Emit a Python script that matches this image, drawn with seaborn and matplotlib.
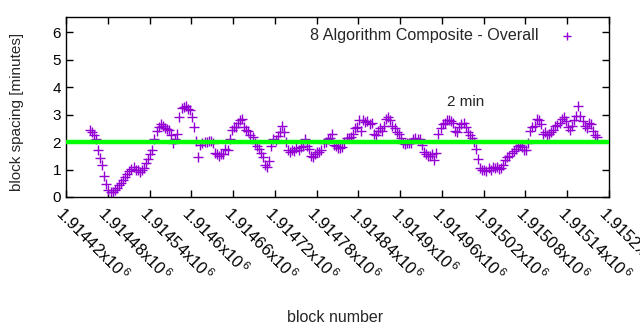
import numpy as np
import pandas as pd
import matplotlib
matplotlib.use("Agg")
import matplotlib.pyplot as plt
import seaborn as sns
from matplotlib.ticker import FixedLocator, FixedFormatter

# ---- data ----
first_block = 1914454
block_step = 3
spacing_minutes = [
    2.42, 2.35, 2.25, 2.1, 1.7, 1.42, 1.15, 0.78, 0.47, 0.25,
    0.2, 0.2, 0.26, 0.34, 0.42, 0.52, 0.63, 0.73, 0.84, 0.95,
    1.02, 1.08, 1.0, 1.0, 0.92, 0.97, 1.07, 1.25, 1.4, 1.55,
    1.7, 2.1, 2.4, 2.55, 2.65, 2.6, 2.5, 2.48, 2.42, 2.25,
    1.95, 2.1, 2.3, 2.9, 3.25, 3.28, 3.3, 3.22, 3.15, 2.92,
    2.55, 2.05, 1.45, 1.9, 1.95, 2.0, 2.0, 2.05, 2.05, 1.95,
    1.6, 1.55, 1.5, 1.55, 1.55, 1.75, 1.72, 2.1, 2.45, 2.55,
    2.55, 2.68, 2.8, 2.85, 2.55, 2.45, 2.4, 2.25, 2.2, 1.95,
    1.85, 1.75, 1.6, 1.45, 1.18, 1.08, 1.3, 1.85, 2.1, 2.07,
    2.22, 2.35, 2.58, 2.35, 2.0, 1.7, 1.62, 1.7, 1.68, 1.78,
    1.72, 1.82, 1.85, 2.1, 1.85, 1.75, 1.5, 1.45, 1.55, 1.62,
    1.65, 1.7, 1.95, 2.0, 2.1, 2.15, 2.3, 1.9, 1.85, 1.8,
    1.8, 1.82, 2.0, 2.15, 2.15, 2.2, 2.3, 2.5, 2.55, 2.8,
    2.4, 2.8, 2.72, 2.75, 2.65, 2.7, 2.3, 2.25, 2.4, 2.5,
    2.4, 2.6, 2.85, 2.9, 2.8, 2.6, 2.5, 2.35, 2.3, 2.15,
    1.95, 1.92, 1.95, 1.98, 1.95, 2.1, 2.15, 2.12, 2.1, 1.9,
    1.65, 1.55, 1.5, 1.5, 1.55, 1.35, 1.6, 2.3, 2.5, 2.65,
    2.7, 2.8, 2.8, 2.78, 2.7, 2.4, 2.35, 2.55, 2.65, 2.7,
    2.55, 2.35, 2.25, 2.15, 2.0, 1.75, 1.4, 1.05, 0.98, 1.0,
    0.95, 1.05, 1.0, 1.1, 1.05, 1.08, 1.02, 1.05, 1.15, 1.35,
    1.45, 1.5, 1.6, 1.68, 1.75, 1.85, 1.9, 1.82, 1.72, 1.7,
    1.95, 2.4, 2.55, 2.6, 2.85, 2.8, 2.65, 2.3, 2.35, 2.25,
    2.3, 2.35, 2.45, 2.6, 2.62, 2.7, 2.85, 2.9, 2.75, 2.55,
    2.45, 2.6, 2.8, 2.95, 3.3, 2.95, 2.75, 2.6, 2.5, 2.7,
    2.65, 2.4, 2.25, 2.2,
]
blocks = [first_block + block_step * i for i in range(len(spacing_minutes))]
target_minutes = 2.0
series_label = "8 Algorithm Composite - Overall"
target_label = "2 min"
x_tick_values = [1914420, 1914480, 1914540, 1914600, 1914660, 1914720, 1914780,
                 1914840, 1914900, 1914960, 1915020, 1915080, 1915140, 1915200]
x_tick_labels = ["1.91442", "1.91448", "1.91454", "1.9146", "1.91466", "1.91472",
                 "1.91478", "1.91484", "1.9149", "1.91496", "1.91502", "1.91508",
                 "1.91514", "1.9152"]
y_ticks = [0, 1, 2, 3, 4, 5, 6]

df = pd.DataFrame({"block": blocks, "spacing": spacing_minutes})

sns.set_style("ticks")
plt.rcParams["font.family"] = ["Liberation Sans", "DejaVu Sans"]
plt.rcParams["mathtext.fontset"] = "custom"
plt.rcParams["mathtext.rm"] = "Liberation Sans"
plt.rcParams["mathtext.it"] = "Liberation Sans"
plt.rcParams["mathtext.bf"] = "Liberation Sans"

fig = plt.figure(figsize=(6.4, 3.3), dpi=100)
ax = fig.add_axes([66 / 640, 1 - 197 / 330, (609 - 66) / 640, (197 - 17) / 330])

purple = "#9400d3"
sns.scatterplot(data=df, x="block", y="spacing", marker="+", s=42,
                color=purple, linewidth=1.0, ax=ax, label=series_label, zorder=2)
ax.axhline(target_minutes, color="#00ff00", linewidth=3.2, zorder=3)
ax.text(1914968, 3.45, target_label, fontsize=11, ha="left", va="center")

ax.set_xlim(1914420, 1915200)
ax.set_ylim(0, 6.55)
ax.xaxis.set_major_locator(FixedLocator(x_tick_values))
ax.xaxis.set_major_formatter(FixedFormatter([f"{t}x10$^{{\\,6}}$" for t in x_tick_labels]))
ax.set_yticks(y_ticks)
ax.tick_params(direction="in", length=5, width=1, top=True, right=True,
               labelsize=11, colors="black")
ax.tick_params(axis="x", labelsize=11.8, pad=5)
for lab in ax.get_xticklabels():
    lab.set_rotation(-45)
    lab.set_ha("left")
    lab.set_va("top")
    lab.set_rotation_mode("anchor")
for sp in ax.spines.values():
    sp.set_visible(True)
    sp.set_color("black")
    sp.set_linewidth(1)

ax.set_xlabel("block number", fontsize=11.5)
ax.xaxis.set_label_coords(0.495, -0.625)
ax.set_ylabel("block spacing [minutes]", fontsize=11)
ax.yaxis.set_label_coords(-0.078, 0.47)

leg = ax.legend(loc="upper right", frameon=False, markerfirst=False,
                fontsize=11.6, handletextpad=1.0, borderaxespad=0.3,
                bbox_to_anchor=(0.965, 1.0), handlelength=1.5)
for h in leg.legend_handles:
    h.set_sizes([30])

fig.savefig("out.png", dpi=100)
